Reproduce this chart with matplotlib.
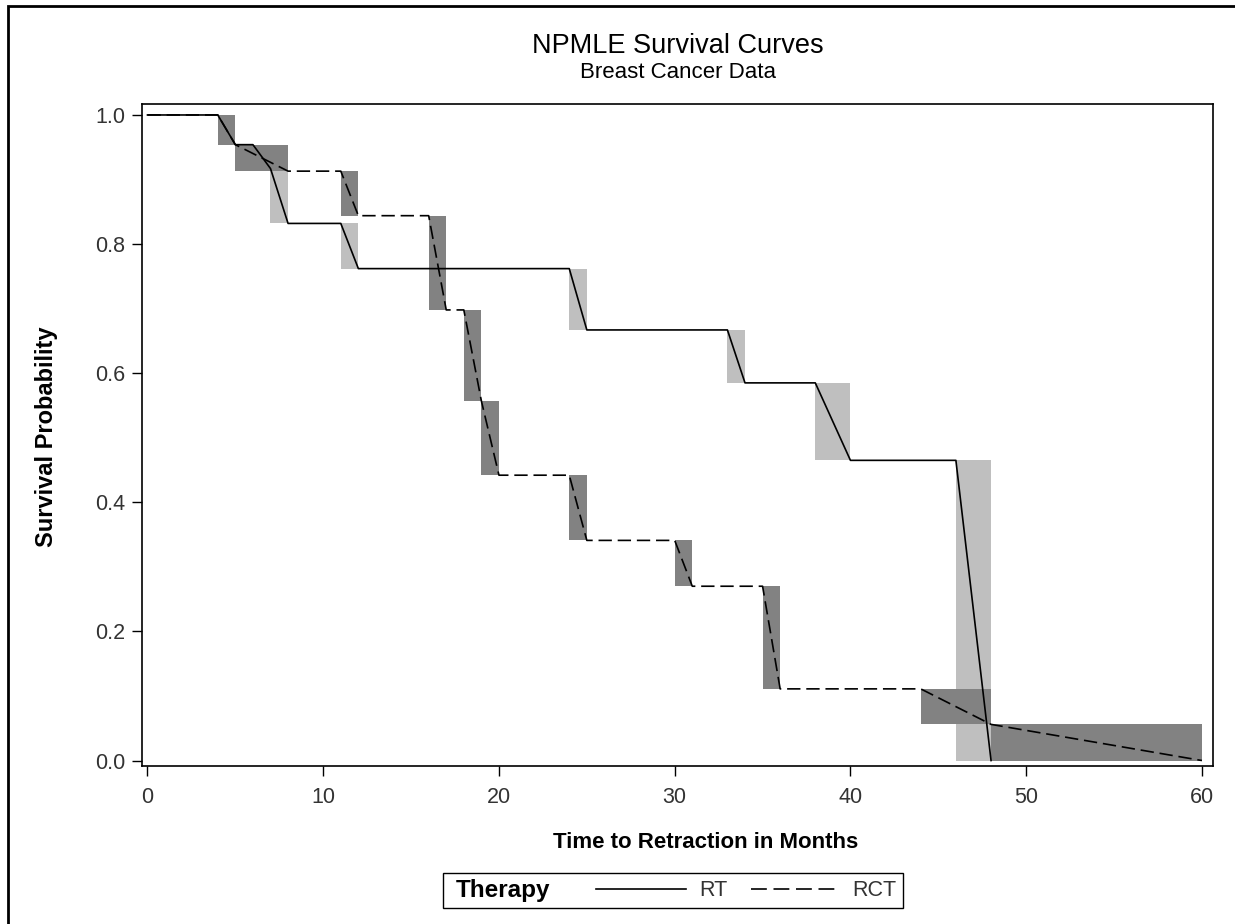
import matplotlib.pyplot as plt
from matplotlib.lines import Line2D
from matplotlib.patches import Rectangle

plt.rcParams['font.family'] = ['Liberation Sans', 'DejaVu Sans']

# NPMLE (Turnbull) estimates: interval [left, right] where the curve drops from s_hi to s_lo
rt_left = [4, 6, 7, 11, 24, 33, 38, 46]
rt_right = [5, 7, 8, 12, 25, 34, 40, 48]
rt_hi = [1.000, 0.954, 0.917, 0.832, 0.762, 0.667, 0.585, 0.465]
rt_lo = [0.954, 0.917, 0.832, 0.762, 0.667, 0.585, 0.465, 0.000]

rct_left = [4, 5, 11, 16, 18, 19, 24, 30, 35, 44, 48]
rct_right = [5, 8, 12, 17, 19, 20, 25, 31, 36, 48, 60]
rct_hi = [1.000, 0.954, 0.913, 0.844, 0.698, 0.557, 0.442, 0.341, 0.270, 0.111, 0.056]
rct_lo = [0.954, 0.913, 0.844, 0.698, 0.557, 0.442, 0.341, 0.270, 0.111, 0.056, 0.000]

light = '#bfbfbf'
dark = '#828282'
dash = (0, (8, 3.5))
W, H = 1235, 924


def curve(left, right, hi, lo):
    xs, ys = [0], [1.0]
    for a, b, h, l in zip(left, right, hi, lo):
        xs += [a, b]
        ys += [h, l]
    return xs, ys


def fx(px):
    return px / W


def fy(py):
    return 1 - py / H


fig = plt.figure(figsize=(W / 100, H / 100), dpi=100)
ax = fig.add_axes([fx(141.5), fy(765.5), (1213 - 141.5) / W, (765.5 - 104) / H])

for a, b, h, l in zip(rt_left, rt_right, rt_hi, rt_lo):
    ax.add_patch(Rectangle((a, l), b - a, h - l, facecolor=light, edgecolor='none', zorder=1))
for a, b, h, l in zip(rct_left, rct_right, rct_hi, rct_lo):
    ax.add_patch(Rectangle((a, l), b - a, h - l, facecolor=dark, edgecolor='none', zorder=2))

x, y = curve(rt_left, rt_right, rt_hi, rt_lo)
ax.plot(x, y, color='black', lw=1.2, zorder=3)
x, y = curve(rct_left, rct_right, rct_hi, rct_lo)
ax.plot(x, y, color='black', lw=1.2, ls=dash, zorder=3)

ax.set_xlim(-0.34, 60.63)
ax.set_ylim(-0.0077, 1.017)
ax.set_xticks(range(0, 61, 10))
ax.set_yticks([0.0, 0.2, 0.4, 0.6, 0.8, 1.0])
ax.set_yticklabels(['0.0', '0.2', '0.4', '0.6', '0.8', '1.0'])
ax.tick_params(axis='both', direction='out', length=7.5, width=1, labelsize=15.5,
               labelcolor='#333333')
ax.tick_params(axis='x', pad=8)
ax.tick_params(axis='y', pad=4)
for s in ax.spines.values():
    s.set_linewidth(1.2)

fig.text(fx(706), fy(843), 'Time to Retraction in Months', ha='center', va='center',
         fontsize=16, fontweight='bold')
fig.text(fx(47), fy(437), 'Survival Probability', ha='center', va='center',
         rotation=90, fontsize=17, fontweight='bold')

fig.text(fx(678), fy(46), 'NPMLE Survival Curves', ha='center', va='center', fontsize=19.5)
fig.text(fx(678), fy(72), 'Breast Cancer Data', ha='center', va='center', fontsize=16)

# legend drawn by hand to keep the SAS layout (title left of entries)
fig.add_artist(Rectangle((fx(443), fy(907.5)), (903 - 443) / W, (907.5 - 872.5) / H,
                         transform=fig.transFigure, facecolor='white', edgecolor='black', lw=1.0))
fig.text(fx(456), fy(890), 'Therapy', ha='left', va='center', fontsize=17.5, fontweight='bold')
fig.add_artist(Line2D([fx(596), fx(686)], [fy(889), fy(889)], transform=fig.transFigure,
                      color='black', lw=1.2))
fig.text(fx(699), fy(890), 'RT', ha='left', va='center', fontsize=15.5, color='#333333')
fig.add_artist(Line2D([fx(751), fx(837)], [fy(889), fy(889)], transform=fig.transFigure,
                      color='black', lw=1.2, ls=(0, (9.5, 4))))
fig.text(fx(852), fy(890), 'RCT', ha='left', va='center', fontsize=15.5, color='#333333')

# outer frame (left and top edges visible)
fig.add_artist(Rectangle((fx(8), -0.1), 1.2, fy(6) + 0.1, transform=fig.transFigure,
                         facecolor='none', edgecolor='black', lw=2))

fig.savefig('out.png', dpi=100)
